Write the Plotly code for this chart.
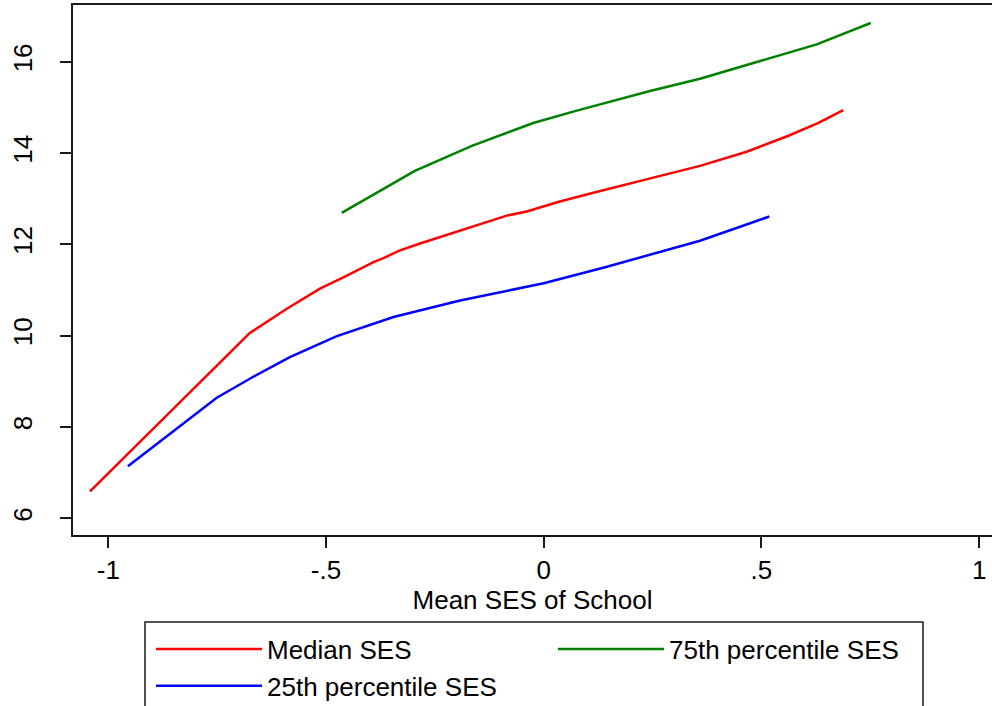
import plotly.graph_objects as go

# Mean SES of school (x) vs predicted outcome for three within-school SES levels
median_x = [-1.042, -0.675, -0.590, -0.514, -0.460, -0.391, -0.368, -0.330, -0.284,
            -0.181, -0.085, -0.039, 0.037, 0.114, 0.191, 0.263, 0.359, 0.466,
            0.562, 0.631, 0.688]
median_y = [6.59, 10.06, 10.59, 11.03, 11.28, 11.61, 11.70, 11.87, 12.02,
            12.34, 12.63, 12.72, 12.94, 13.13, 13.31, 13.49, 13.72, 14.03,
            14.38, 14.66, 14.94]

p75_x = [-0.464, -0.296, -0.165, -0.085, -0.024, 0.076, 0.129, 0.244, 0.359,
         0.512, 0.627, 0.751]
p75_y = [12.69, 13.61, 14.16, 14.45, 14.66, 14.93, 15.07, 15.36, 15.63,
         16.05, 16.38, 16.85]

p25_x = [-0.955, -0.751, -0.667, -0.583, -0.475, -0.345, -0.192, 0.000, 0.141,
         0.359, 0.518]
p25_y = [7.14, 8.64, 9.10, 9.53, 9.99, 10.41, 10.77, 11.15, 11.50,
         12.08, 12.61]

x_ticks = [-1, -0.5, 0, 0.5, 1]
x_tick_labels = ["-1", "-.5", "0", ".5", "1"]
y_ticks = [6, 8, 10, 12, 14, 16]

FONT = "Liberation Sans, Arial, sans-serif"
AXIS_COLOR = "#1a1a1a"

# plot area in pixels
W, H = 992, 706
L, R, T, B = 73, 0, 5, 171
PW, PH = W - L - R, H - T - B
PLOT_BOTTOM = H - B


def px_x(p):
    return (p - L) / PW


def px_y(p):
    return (PLOT_BOTTOM - p) / PH


fig = go.Figure()
fig.add_trace(go.Scatter(x=median_x, y=median_y, mode="lines", name="Median SES",
                         line=dict(color="#ff0000", width=2.5)))
fig.add_trace(go.Scatter(x=p75_x, y=p75_y, mode="lines", name="75th percentile SES",
                         line=dict(color="#008000", width=2.5)))
fig.add_trace(go.Scatter(x=p25_x, y=p25_y, mode="lines", name="25th percentile SES",
                         line=dict(color="#0000ff", width=2.5)))

fig.update_layout(
    width=W, height=H,
    margin=dict(l=L, r=R, t=T, b=B, autoexpand=False),
    paper_bgcolor="white", plot_bgcolor="white",
    font=dict(family=FONT, color="black", size=26),
    xaxis=dict(
        range=[-1.0811, 1.0296],
        tickvals=x_ticks, ticktext=x_tick_labels,
        ticks="outside", ticklen=11, tickwidth=1.5, tickcolor=AXIS_COLOR,
        showline=True, linecolor=AXIS_COLOR, linewidth=2, mirror=True,
        showgrid=False, zeroline=False,
        tickfont=dict(size=26),
        title=dict(text="Mean SES of School", font=dict(size=26), standoff=0),
        automargin=False,
    ),
    yaxis=dict(
        range=[5.634, 17.244],
        tickvals=y_ticks,
        ticks="outside", ticklen=11, tickwidth=1.5, tickcolor=AXIS_COLOR,
        showline=True, linecolor=AXIS_COLOR, linewidth=2,
        showgrid=False, zeroline=False,
        tickangle=-90, tickfont=dict(size=26),
        ticklabelstandoff=18,
        automargin=False,
    ),
    showlegend=True,
    legend=dict(
        orientation="h",
        x=px_x(151), xanchor="left",
        y=px_y(625.5), yanchor="top",
        entrywidth=397 - 116, entrywidthmode="pixels",
        itemwidth=106,
        font=dict(size=26),
        bgcolor="rgba(0,0,0,0)", borderwidth=0,
        traceorder="normal",
    ),
    shapes=[dict(
        type="rect", xref="paper", yref="paper",
        x0=px_x(145), x1=px_x(923),
        y0=px_y(740), y1=px_y(622),
        line=dict(color=AXIS_COLOR, width=1.5), fillcolor="rgba(0,0,0,0)",
    )],
)

fig.write_html("out.html")
